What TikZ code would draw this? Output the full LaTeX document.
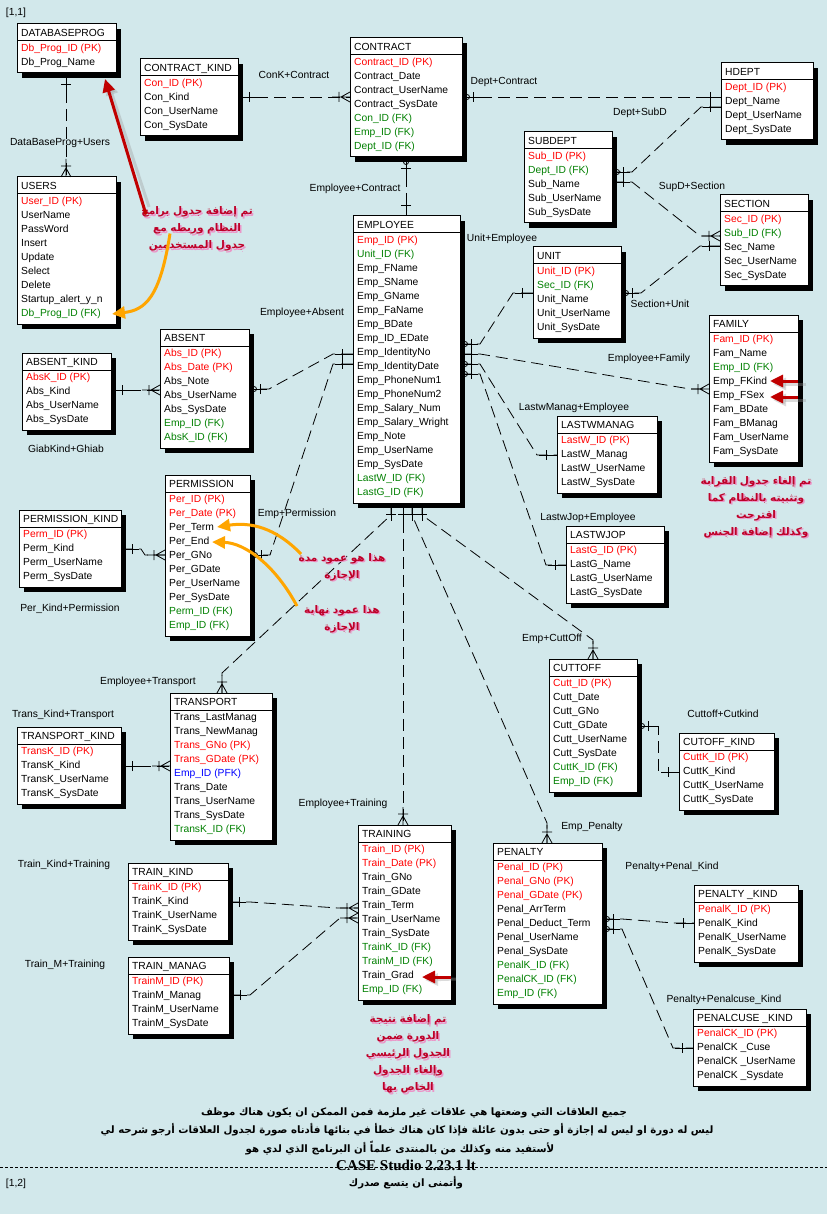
\documentclass[tikz,border=0pt]{standalone}
\usepackage{fontspec}
\setmainfont{Liberation Sans}
\newfontfamily\arabicfont[Script=Arabic]{DejaVu Sans}
\newfontfamily\serifbold{Liberation Serif}
\TeXXeTstate=1
\usetikzlibrary{arrows.meta}
\definecolor{bg}{RGB}{210,232,235}
\definecolor{pkred}{RGB}{255,0,0}
\definecolor{fkgreen}{RGB}{0,128,0}
\definecolor{pfkblue}{RGB}{0,0,255}
\definecolor{notered}{RGB}{190,0,40}
\definecolor{noteshadow}{RGB}{235,150,200}
\definecolor{arrred}{RGB}{192,0,0}
\definecolor{arrorange}{RGB}{255,165,0}
\newcommand\pk[1]{\textcolor{pkred}{#1}}
\newcommand\fk[1]{\textcolor{fkgreen}{#1}}
\newcommand\pfk[1]{\textcolor{pfkblue}{#1}}
\newcommand\arl[1]{\beginR #1\endR}
\tikzset{
  tblbox/.style={draw, fill=white, line width=1pt, inner sep=0pt, outer sep=0pt, anchor=north west},
  rowtxt/.style={anchor=base west, inner sep=0pt},
  lbl/.style={anchor=base, inner sep=0pt},
  rel/.style={draw, line width=0.8pt, dash pattern=on 12pt off 6pt},
  one/.pic={\draw[line width=0.8pt] (0,0) -- (-18,0) (-11,-5) -- (-11,5);},
  zone/.pic={\draw[line width=0.8pt] (0,0) -- (-18,0) (-11,-5) -- (-11,5); \draw[line width=0.8pt] (-5,0) circle (2.5pt);},
  crow/.pic={\draw[line width=0.8pt] (0,-5) -- (-9,0) -- (0,5) (0,0) -- (-18,0) (-11,-5) -- (-11,5);},
  note/.style={font=\arabicfont\bfseries\fontsize{10.5}{17}\selectfont, text=notered, align=center, inner sep=0pt},
  noteshd/.style={font=\arabicfont\bfseries\fontsize{10.5}{17}\selectfont, text=noteshadow, align=center, inner sep=0pt},
  botline/.style={font=\arabicfont\bfseries\fontsize{10.2}{12}\selectfont, inner sep=0pt},
  redarr/.style={draw=arrred, line width=3pt, -{Triangle[length=13pt,width=12pt]}},
  orarr/.style={draw=arrorange, line width=3pt, -{Triangle[length=13pt,width=12pt]}},
  arrshd/.style={draw=black!40, opacity=0.35, line width=3pt, -{Triangle[length=13pt,width=12pt]}},
}
\newcommand\ertable[7]{%
  \pgfmathsetmacro\erw{#4-#2}%
  \pgfmathsetmacro\erh{21+14*#5}%
  \pgfmathsetmacro\erbot{#3+\erh}%
  \pgfmathsetmacro\erhy{#3+17}%
  \fill[black] ({#2+5},{#3+5}) rectangle ({#4+5},{\erbot+5});%
  \node[tblbox, minimum width=\erw pt, minimum height=\erh pt] (#1) at (#2,#3) {};%
  \draw[line width=1pt] (#1.west |- 0,\erhy) -- (#1.east |- 0,\erhy);%
  \node[rowtxt] (#1-t) at ({#2+4},{#3+12.1}) {#6};%
  \foreach \rowtext [count=\ri] in {#7}{%
    \pgfmathsetmacro\ery{#3+24+14*(\ri-1)+3.6}%
    \node[rowtxt] (#1-\ri) at ({#2+4},\ery) {\rowtext};}%
}
\begin{document}
\catcode`\_=12
\begin{tikzpicture}[x=1pt,y=-1pt,font=\fontsize{10.3}{12}\selectfont]
\fill[bg] (0,0) rectangle (827,1214);
\useasboundingbox (0,0) rectangle (827,1214);

% ---------- tables ----------
\ertable{dbprog}{17}{24}{116}{2}{DATABASEPROG}{\pk{Db_Prog_ID (PK)}, Db_Prog_Name}
\ertable{users}{17}{177}{116}{9}{USERS}{\pk{User_ID (PK)}, UserName, PassWord, Insert, Update, Select, Delete, Startup_alert_y_n, \fk{Db_Prog_ID (FK)}}
\ertable{conkind}{140}{59}{238}{4}{CONTRACT_KIND}{\pk{Con_ID (PK)}, Con_Kind, Con_UserName, Con_SysDate}
\ertable{contract}{350}{38}{462}{7}{CONTRACT}{\pk{Contract_ID (PK)}, Contract_Date, Contract_UserName, Contract_SysDate, \fk{Con_ID (FK)}, \fk{Emp_ID (FK)}, \fk{Dept_ID (FK)}}
\ertable{hdept}{721}{63}{813}{4}{HDEPT}{\pk{Dept_ID (PK)}, Dept_Name, Dept_UserName, Dept_SysDate}
\ertable{subdept}{524}{132}{612}{5}{SUBDEPT}{\pk{Sub_ID (PK)}, \fk{Dept_ID (FK)}, Sub_Name, Sub_UserName, Sub_SysDate}
\ertable{section}{720}{195}{808}{5}{SECTION}{\pk{Sec_ID (PK)}, \fk{Sub_ID (FK)}, Sec_Name, Sec_UserName, Sec_SysDate}
\ertable{unit}{533}{247}{621}{5}{UNIT}{\pk{Unit_ID (PK)}, \fk{Sec_ID (FK)}, Unit_Name, Unit_UserName, Unit_SysDate}
\ertable{employee}{353}{216}{460}{19}{EMPLOYEE}{\pk{Emp_ID (PK)}, \fk{Unit_ID (FK)}, Emp_FName, Emp_SName, Emp_GName, Emp_FaName, Emp_BDate, Emp_ID_EDate, Emp_IdentityNo, Emp_IdentityDate, Emp_PhoneNum1, Emp_PhoneNum2, Emp_Salary_Num, Emp_Salary_Wright, Emp_Note, Emp_UserName, Emp_SysDate, \fk{LastW_ID (FK)}, \fk{LastG_ID (FK)}}
\ertable{family}{709}{315}{798}{9}{FAMILY}{\pk{Fam_ID (PK)}, Fam_Name, \fk{Emp_ID (FK)}, Emp_FKind, Emp_FSex, Fam_BDate, Fam_BManag, Fam_UserName, Fam_SysDate}
\ertable{absent}{160}{329}{249}{7}{ABSENT}{\pk{Abs_ID (PK)}, \pk{Abs_Date (PK)}, Abs_Note, Abs_UserName, Abs_SysDate, \fk{Emp_ID (FK)}, \fk{AbsK_ID (FK)}}
\ertable{absentkind}{22}{353}{111}{4}{ABSENT_KIND}{\pk{AbsK_ID (PK)}, Abs_Kind, Abs_UserName, Abs_SysDate}
\ertable{permission}{165}{475}{250}{10}{PERMISSION}{\pk{Per_ID (PK)}, \pk{Per_Date (PK)}, Per_Term, Per_End, Per_GNo, Per_GDate, Per_UserName, Per_SysDate, \fk{Perm_ID (FK)}, \fk{Emp_ID (FK)}}
\ertable{permkind}{19}{510}{121}{4}{PERMISSION_KIND}{\pk{Perm_ID (PK)}, Perm_Kind, Perm_UserName, Perm_SysDate}
\ertable{lastwmanag}{557}{416}{657}{4}{LASTWMANAG}{\pk{LastW_ID (PK)}, LastW_Manag, LastW_UserName, LastW_SysDate}
\ertable{lastwjop}{566}{526}{664}{4}{LASTWJOP}{\pk{LastG_ID (PK)}, LastG_Name, LastG_UserName, LastG_SysDate}
\ertable{cuttoff}{549}{659}{637}{8}{CUTTOFF}{\pk{Cutt_ID (PK)}, Cutt_Date, Cutt_GNo, Cutt_GDate, Cutt_UserName, Cutt_SysDate, \fk{CuttK_ID (FK)}, \fk{Emp_ID (FK)}}
\ertable{cutoffkind}{679}{733}{774}{4}{CUTOFF_KIND}{\pk{CuttK_ID (PK)}, CuttK_Kind, CuttK_UserName, CuttK_SysDate}
\ertable{penalty}{493}{843}{602}{10}{PENALTY}{\pk{Penal_ID (PK)}, \pk{Penal_GNo (PK)}, \pk{Penal_GDate (PK)}, Penal_ArrTerm, Penal_Deduct_Term, Penal_UserName, Penal_SysDate, \fk{PenalK_ID (FK)}, \fk{PenalCK_ID (FK)}, \fk{Emp_ID (FK)}}
\ertable{penaltykind}{694}{885}{798}{4}{PENALTY _KIND}{\pk{PenalK_ID (PK)}, PenalK_Kind, PenalK_UserName, PenalK_SysDate}
\ertable{penalcuse}{693}{1009}{806}{4}{PENALCUSE _KIND}{\pk{PenalCK_ID (PK)}, PenalCK _Cuse, PenalCK _UserName, PenalCK _Sysdate}
\ertable{training}{358}{825}{451}{11}{TRAINING}{\pk{Train_ID (PK)}, \pk{Train_Date (PK)}, Train_GNo, Train_GDate, Train_Term, Train_UserName, Train_SysDate, \fk{TrainK_ID (FK)}, \fk{TrainM_ID (FK)}, Train_Grad, \fk{Emp_ID (FK)}}
\ertable{trainkind}{128}{863}{228}{4}{TRAIN_KIND}{\pk{TrainK_ID (PK)}, TrainK_Kind, TrainK_UserName, TrainK_SysDate}
\ertable{trainmanag}{128}{957}{229}{4}{TRAIN_MANAG}{\pk{TrainM_ID (PK)}, TrainM_Manag, TrainM_UserName, TrainM_SysDate}
\ertable{transport}{170}{693}{272}{9}{TRANSPORT}{Trans_LastManag, Trans_NewManag, \pk{Trans_GNo (PK)}, \pk{Trans_GDate (PK)}, \pfk{Emp_ID (PFK)}, Trans_Date, Trans_UserName, Trans_SysDate, \fk{TransK_ID (FK)}}
\ertable{transkind}{17}{727}{121}{4}{TRANSPORT_KIND}{\pk{TransK_ID (PK)}, TransK_Kind, TransK_UserName, TransK_SysDate}

% ---------- connectors ----------
\draw[rel] (dbprog.south -| 66,0) -- (users.north -| 66,0);
\pic[rotate=90] at (dbprog.south -| 66,0) {one};
\pic[rotate=-90] at (users.north -| 66,0) {crow};

\draw[rel] (conkind.east |- 0,97) -- (contract.west |- 0,97);
\pic[rotate=180] at (conkind.east |- 0,97) {one};
\pic at (contract.west |- 0,97) {crow};

\draw[rel] (contract.east |- 0,97) -- (hdept.west |- 0,97);
\pic[rotate=180] at (contract.east |- 0,97) {zone};
\pic at (hdept.west |- 0,97) {one};

\draw[rel] (hdept.west |- 0,107) -- (701,107) -- (632,172) -- (subdept.east |- 0,172);
\pic at (hdept.west |- 0,107) {one};
\pic[rotate=180] at (subdept.east |- 0,172) {zone};

\draw[rel] (subdept.east |- 0,182) -- (632,182) -- (700,236) -- (section.west |- 0,236);
\pic[rotate=180] at (subdept.east |- 0,182) {one};
\pic at (section.west |- 0,236) {crow};

\draw[rel] (section.west |- 0,246) -- (700,246) -- (641,293) -- (unit.east |- 0,293);
\pic at (section.west |- 0,246) {one};
\pic[rotate=180] at (unit.east |- 0,293) {zone};

\draw[rel] (unit.west |- 0,293) -- (513,293) -- (480,344) -- (employee.east |- 0,344);
\pic at (unit.west |- 0,293) {one};
\pic[rotate=180] at (employee.east |- 0,344) {zone};

\draw[rel] (employee.east |- 0,354) -- (480,354) -- (690,389) -- (family.west |- 0,389);
\pic[rotate=180] at (employee.east |- 0,354) {one};
\pic at (family.west |- 0,389) {crow};

\draw[rel] (employee.east |- 0,364) -- (480,364) -- (537,455) -- (lastwmanag.west |- 0,455);
\pic[rotate=180] at (employee.east |- 0,364) {zone};
\pic at (lastwmanag.west |- 0,455) {one};

\draw[rel] (employee.east |- 0,374) -- (480,374) -- (546,565) -- (lastwjop.west |- 0,565);
\pic[rotate=180] at (employee.east |- 0,374) {zone};
\pic at (lastwjop.west |- 0,565) {one};

\draw[rel] (employee.west |- 0,354) -- (333,354) -- (269,389) -- (absent.east |- 0,389);
\pic at (employee.west |- 0,354) {one};
\pic[rotate=180] at (absent.east |- 0,389) {zone};

\draw[rel] (employee.west |- 0,364) -- (333,364) -- (270,555) -- (permission.east |- 0,555);
\pic at (employee.west |- 0,364) {one};
\pic[rotate=180] at (permission.east |- 0,555) {zone};

\draw[rel] (absentkind.east |- 0,390) -- (absent.west |- 0,390);
\pic[rotate=180] at (absentkind.east |- 0,390) {one};
\pic at (absent.west |- 0,390) {crow};

\draw[rel] (permkind.east |- 0,549) -- (141,549) -- (145,555) -- (permission.west |- 0,555);
\pic[rotate=180] at (permkind.east |- 0,549) {one};
\pic at (permission.west |- 0,555) {crow};

\draw[rel] (employee.south -| 391,0) -- (391,515) -- (222,673) -- (transport.north -| 222,0);
\pic[rotate=90] at (employee.south -| 391,0) {one};
\pic[rotate=-90] at (transport.north -| 222,0) {crow};

\draw[rel] (employee.south -| 403,0) -- (training.north -| 403,0);
\pic[rotate=90] at (employee.south -| 403,0) {one};
\pic[rotate=-90] at (training.north -| 403,0) {crow};

\draw[rel] (employee.south -| 412,0) -- (412,515) -- (547,823) -- (penalty.north -| 547,0);
\pic[rotate=90] at (employee.south -| 412,0) {one};
\pic[rotate=-90] at (penalty.north -| 547,0) {crow};

\draw[rel] (employee.south -| 422,0) -- (422,515) -- (593,640) -- (cuttoff.north -| 593,0);
\pic[rotate=90] at (employee.south -| 422,0) {one};
\pic[rotate=-90] at (cuttoff.north -| 593,0) {crow};

\draw[rel] (contract.south -| 406,0) -- (employee.north -| 406,0);
\pic[rotate=90] at (contract.south -| 406,0) {zone};
\pic[rotate=-90] at (employee.north -| 406,0) {one};

\draw[rel] (transkind.east |- 0,766) -- (transport.west |- 0,766);
\pic[rotate=180] at (transkind.east |- 0,766) {one};
\pic at (transport.west |- 0,766) {crow};

\draw[rel] (trainkind.east |- 0,902) -- (250,902) -- (338,908) -- (training.west |- 0,908);
\pic[rotate=180] at (trainkind.east |- 0,902) {one};
\pic at (training.west |- 0,908) {crow};

\draw[rel] (trainmanag.east |- 0,995) -- (250,995) -- (340,918) -- (training.west |- 0,918);
\pic[rotate=180] at (trainmanag.east |- 0,995) {one};
\pic at (training.west |- 0,918) {crow};

\draw[rel] (cuttoff.east |- 0,726) -- (658,726) -- (658,772) -- (cutoffkind.west |- 0,772);
\pic[rotate=180] at (cuttoff.east |- 0,726) {zone};
\pic at (cutoffkind.west |- 0,772) {one};

\draw[rel] (penalty.east |- 0,919) -- (622,919) -- (674,923) -- (penaltykind.west |- 0,923);
\pic[rotate=180] at (penalty.east |- 0,919) {zone};
\pic at (penaltykind.west |- 0,923) {one};

\draw[rel] (penalty.east |- 0,929) -- (622,929) -- (673,1048) -- (penalcuse.west |- 0,1048);
\pic[rotate=180] at (penalty.east |- 0,929) {zone};
\pic at (penalcuse.west |- 0,1048) {one};

% ---------- relation labels ----------
\node[lbl] (l1) at (60,146) {DataBaseProg+Users};
\node[lbl] (l2) at (294,79) {ConK+Contract};
\node[lbl] (l3) at (355,192) {Employee+Contract};
\node[lbl] (l4) at (302,315) {Employee+Absent};
\node[lbl] (l5) at (504,85) {Dept+Contract};
\node[lbl] (l6) at (640,116) {Dept+SubD};
\node[lbl] (l7) at (692,190) {SupD+Section};
\node[lbl] (l8) at (502,242) {Unit+Employee};
\node[lbl] (l9) at (660,307) {Section+Unit};
\node[lbl] (l10) at (649,361) {Employee+Family};
\node[lbl] (l11) at (574,410) {LastwManag+Employee};
\node[lbl] (l12) at (588,520) {LastwJop+Employee};
\node[lbl] (l13) at (66,452) {GiabKind+Ghiab};
\node[lbl] (l14) at (297,516) {Emp+Permission};
\node[lbl] (l15) at (70,611) {Per_Kind+Permission};
\node[lbl] (l16) at (148,684) {Employee+Transport};
\node[lbl] (l17) at (63,717) {Trans_Kind+Transport};
\node[lbl] (l18) at (552,641) {Emp+CuttOff};
\node[lbl] (l19) at (723,717) {Cuttoff+Cutkind};
\node[lbl] (l20) at (343,806) {Employee+Training};
\node[lbl] (l21) at (592,829) {Emp_Penalty};
\node[lbl] (l22) at (672,869) {Penalty+Penal_Kind};
\node[lbl] (l23) at (64,867) {Train_Kind+Training};
\node[lbl] (l24) at (65,967) {Train_M+Training};
\node[lbl] (l25) at (724,1002) {Penalty+Penalcuse_Kind};
\node[lbl] (p11) at (16,16) {[1,1]};
\node[lbl] (p12) at (16,1186) {[1,2]};

% ---------- annotations ----------
\node[noteshd] (noteAs) at (198.5,230.5) {\arl{تم إضافة جدول برامج}\\\arl{النظام وربطه مع}\\\arl{جدول المستخدمين}};
\node[note] (noteA) at (197,229) {\arl{تم إضافة جدول برامج}\\\arl{النظام وربطه مع}\\\arl{جدول المستخدمين}};
\node[noteshd] (noteBs) at (343.5,568.5) {\arl{هذا هو عمود مدة}\\\arl{الإجازة}};
\node[note] (noteB) at (342,567) {\arl{هذا هو عمود مدة}\\\arl{الإجازة}};
\node[noteshd] (noteCs) at (343.5,620.5) {\arl{هذا عمود نهاية}\\\arl{الإجازة}};
\node[note] (noteC) at (342,619) {\arl{هذا عمود نهاية}\\\arl{الإجازة}};
\node[noteshd] (noteDs) at (757.5,508.5) {\arl{تم إلغاء جدول القرابة}\\\arl{وتثبيته بالنظام كما}\\\arl{اقترحت}\\\arl{وكذلك إضافة الجنس}};
\node[note] (noteD) at (756,507) {\arl{تم إلغاء جدول القرابة}\\\arl{وتثبيته بالنظام كما}\\\arl{اقترحت}\\\arl{وكذلك إضافة الجنس}};
\node[noteshd] (noteEs) at (409.5,1055.5) {\arl{تم إضافة نتيجة}\\\arl{الدورة ضمن}\\\arl{الجدول الرئيسي}\\\arl{وإلغاء الجدول}\\\arl{الخاص بها}};
\node[note] (noteE) at (408,1054) {\arl{تم إضافة نتيجة}\\\arl{الدورة ضمن}\\\arl{الجدول الرئيسي}\\\arl{وإلغاء الجدول}\\\arl{الخاص بها}};

% arrows
\coordinate (tipA) at (105,79);
\coordinate (tipB) at (112,314);
\coordinate (tipC) at (217,527);
\coordinate (tipD) at (212,542);
\coordinate (tipE) at (770,381);
\coordinate (tipF) at (770,397);
\coordinate (tipG) at (422,977);
\draw[arrshd] (149,207) -- (108,82);
\draw[redarr] ([xshift=-51pt,yshift=-8pt]noteA.north) -- (tipA);
\draw[orarr] ([xshift=-27pt,yshift=-27pt]noteA.north) .. controls (160,298) and (145,310) .. (tipB);
\draw[orarr] ([xshift=-41pt,yshift=-1pt]noteB.north) .. controls (275,527) and (250,522) .. (tipC);
\draw[orarr] ([xshift=-45pt,yshift=-1pt]noteC.north) .. controls (275,565) and (245,543) .. (tipD);
\draw[arrshd] (806,384) -- (773,384);
\draw[arrshd] (806,400) -- (773,400);
\draw[arrshd] (456,979) -- (425,980);
\draw[redarr] (family.east |- tipE) -- (tipE);
\draw[redarr] (family.east |- tipF) -- (tipF);
\draw[redarr] (training.east |- tipG) -- (tipG);

% ---------- bottom text ----------
\draw[line width=0.8pt, dash pattern=on 3pt off 2pt] (0,1167) -- (827,1167);
\node[botline] (b1) at (414,1113) {\arl{جميع العلاقات التي وضعتها هي علاقات غير ملزمة فمن الممكن ان يكون هناك موظف}};
\node[botline] (b2) at (407,1130) {\arl{ليس له دورة او ليس له إجازة أو حتى بدون عائلة فإذا كان هناك خطأ في بنائها فأدناه صورة لجدول العلاقات أرجو شرحه لي}};
\node[botline] (b3) at (400,1148) {\arl{لأستفيد منه وكذلك من بالمنتدى علماً أن البرنامج الذي لدي هو}};
\node[inner sep=0pt, font=\serifbold\bfseries\fontsize{15}{16}\selectfont] (b4) at (406,1165) {CASE Studio 2.23.1 lt};
\node[botline] (b5) at (406,1183) {\arl{وأتمنى ان يتسع صدرك}};
\end{tikzpicture}
\end{document}
